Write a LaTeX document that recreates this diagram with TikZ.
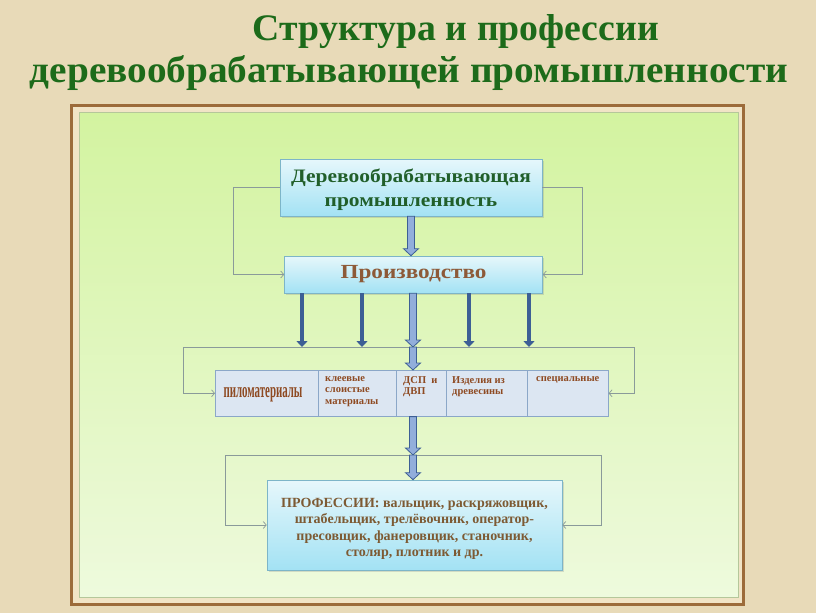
\documentclass[tikz,border=0pt]{standalone}
\usepackage{fontspec}
\setmainfont{Liberation Serif}
\usetikzlibrary{arrows.meta,shadows,calc}
\definecolor{bg}{HTML}{E8DAB8}
\definecolor{framebrown}{HTML}{9C6B3A}
\definecolor{framecream}{HTML}{F1E4C6}
\definecolor{greentop}{HTML}{D3F3A0}
\definecolor{greenbot}{HTML}{EEFADD}
\definecolor{greenline}{HTML}{B5C79A}
\definecolor{titlegreen}{HTML}{1D6B1A}
\definecolor{boxgreen}{HTML}{215F2A}
\definecolor{boxbrown}{HTML}{8D5A38}
\definecolor{cellbrown}{HTML}{8E4A22}
\definecolor{profbrown}{HTML}{7D5A33}
\definecolor{cyantop}{HTML}{E6F7FB}
\definecolor{cyanbot}{HTML}{A3E2F4}
\definecolor{cyanline}{HTML}{7DB5C8}
\definecolor{cellfill}{HTML}{DCE6F2}
\definecolor{cellline}{HTML}{8BA7C8}
\definecolor{connline}{HTML}{8A9A9A}
\definecolor{arrblue}{HTML}{3D5F95}
\definecolor{arrlight}{HTML}{92AEDB}
\tikzset{
  cbox/.style={draw=cyanline, line width=0.6pt, top color=cyantop, bottom color=cyanbot,
    drop shadow={opacity=0.25, shadow xshift=1.5pt, shadow yshift=-2pt},
    align=center, inner sep=0pt},
  cellbox/.style={draw=cellline, line width=0.6pt, fill=cellfill, inner sep=0pt,
    anchor=north west, minimum height=46pt},
  celltext/.style={anchor=north west, align=left, inner sep=0pt, text=cellbrown,
    font=\fontsize{10.5}{11.5}\selectfont\bfseries},
  conn/.style={draw=connline, line width=0.7pt, -{Straight Barb[length=3pt,width=7pt]}},
  connplain/.style={draw=connline, line width=0.7pt},
  barr/.style={draw=arrblue, line width=4pt, -{Triangle[length=6pt,width=11pt]}},
  blockarr/.style={draw=arrblue, fill=arrlight, line width=0.8pt, line join=miter,
    to path={let \p1=(\tikztostart), \p2=(\tikztotarget) in
      (\x1-3.5pt,\y1) -- (\x1+3.5pt,\y1) -- (\x1+3.5pt,\y2+7pt) -- (\x1+7.5pt,\y2+7pt)
      -- (\x1,\y2) -- (\x1-7.5pt,\y2+7pt) -- (\x1-3.5pt,\y2+7pt) -- cycle}}
}
\begin{document}
\begin{tikzpicture}[x=1pt,y=-1pt]
\useasboundingbox (0,0) rectangle (816,613);
\fill[bg] (0,0) rectangle (816,613);

% title
\node[anchor=base, inner sep=0pt, text=titlegreen, font=\bfseries] (t1) at (456,40)
  {\resizebox{406pt}{26pt}{Структура и профессии}};
\node[anchor=base, inner sep=0pt, text=titlegreen, font=\bfseries] (t2) at (409,82)
  {\resizebox{758pt}{27pt}{деревообрабатывающей промышленности}};

% frame
\fill[framebrown] (70,104) rectangle (745,606);
\fill[framecream] (73,107) rectangle (742,603);
\shade[top color=greentop, bottom color=greenbot, draw=greenline, line width=0.6pt]
  (79,112) rectangle (738,597);

% boxes
\node[cbox, minimum width=262pt, minimum height=57pt] (ind) at (411,187.5) {};
\node[align=center, inner sep=0pt, text=boxgreen,
  font=\fontsize{19}{24}\selectfont\bfseries] (indt) at (411,190)
  {\scalebox{1.13}[1]{Деревообрабатывающая}\\\scalebox{1.13}[1]{промышленность}};
\node[cbox, minimum width=258pt, minimum height=37pt, text=boxbrown,
  font=\fontsize{20}{24}\selectfont\bfseries] (prod) at (413.5,274.5)
  {\scalebox{1.16}[1]{Производство}};

% row cells
\node[cellbox, minimum width=103pt] (c1) at (215,370) {};
\node[cellbox, minimum width=78pt] (c2) at (318,370) {};
\node[cellbox, minimum width=50pt] (c3) at (396,370) {};
\node[cellbox, minimum width=81pt] (c4) at (446,370) {};
\node[cellbox, minimum width=81pt] (c5) at (527,370) {};
\node[inner sep=0pt, text=cellbrown, font=\bfseries] (l1) at (263,395)
  {\resizebox{79pt}{10pt}{пиломатериалы}};
\node[celltext] (l2) at (325,376) {клеевые\\слоистые\\материалы};
\node[celltext] (l3) at (403,376) {ДСП\ \ и\\ДВП};
\node[celltext] (l4) at (452,376) {Изделия из\\древесины};
\node[celltext] (l5) at (536,376) {специальные};

% professions
\node[cbox, minimum width=295pt, minimum height=90pt] (prof) at (414.5,525) {};
\node[align=center, inner sep=0pt, text=profbrown,
  font=\fontsize{14}{16.5}\selectfont\bfseries] (proft) at (414.5,529)
  {ПРОФЕССИИ: вальщик, раскряжовщик,\\штабельщик, трелёвочник, оператор-\\пресовщик, фанеровщик, станочник,\\столяр, плотник и др.};

% thin connectors top
\draw[conn] (ind.west) -- ++(-46,0) |- (prod.west);
\draw[conn] (ind.east) -- ++(40,0) |- (prod.east);

% row frame
\coordinate (fl) at (183,347);
\coordinate (fr) at (634,347);
\draw[connplain] (fl) -- (fr);
\draw[conn] (fl) |- (c1.west);
\draw[conn] (fr) |- (c5.east);

% professions frame
\coordinate (gl) at (225,455);
\coordinate (gr) at (601,455);
\draw[connplain] (gl) -- (gr);
\draw[conn] (gl) |- (prof.west);
\draw[conn] (gr) |- (prof.east);

% blue arrows
\coordinate (a1) at (302,347);
\coordinate (a2) at (362,347);
\coordinate (a4) at (469,347);
\coordinate (a5) at (529,347);
\draw[barr] (a1 |- prod.south) -- (a1);
\draw[barr] (a2 |- prod.south) -- (a2);
\draw[barr] (a4 |- prod.south) -- (a4);
\draw[barr] (a5 |- prod.south) -- (a5);

% block arrows
\coordinate (m1) at (413,347);
\coordinate (m2) at (413,455);
\path[blockarr] (ind.south) to (ind.south |- prod.north);
\path[blockarr] (m1 |- prod.south) to (m1);
\path[blockarr] (m1) to (m1 |- c3.north);
\path[blockarr] (m2 |- c3.south) to (m2);
\path[blockarr] (m2) to (m2 |- prof.north);
\end{tikzpicture}
\end{document}
